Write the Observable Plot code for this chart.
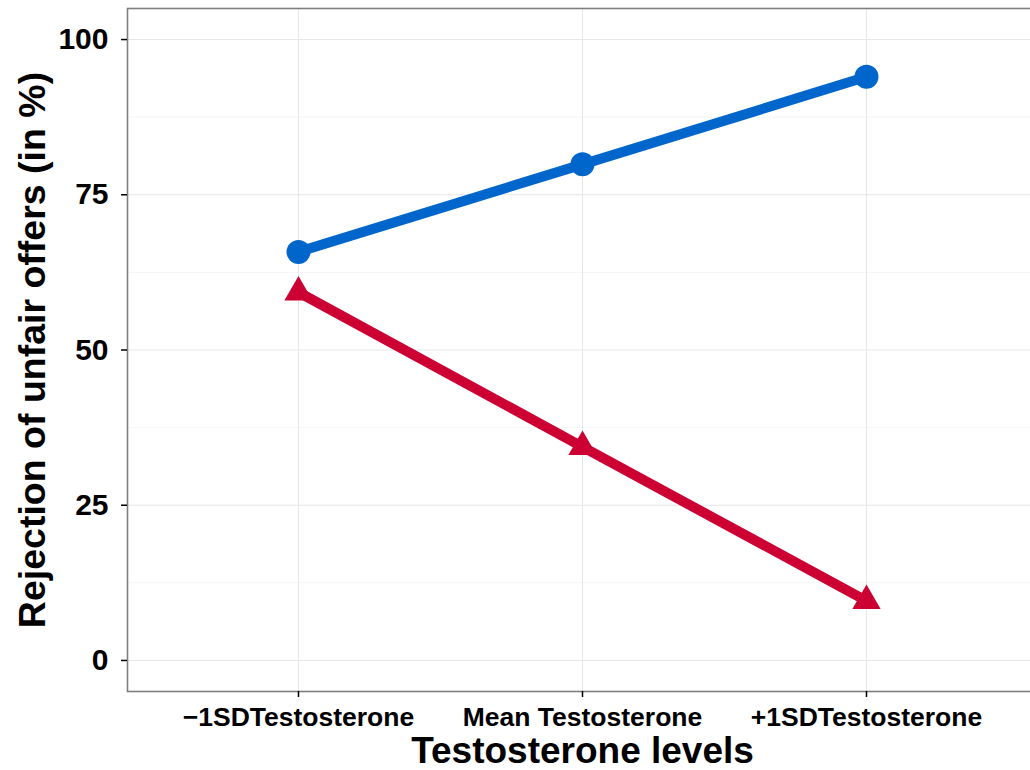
<!DOCTYPE html>
<html>
<head>
<meta charset="utf-8">
<script src="https://cdn.jsdelivr.net/npm/d3@7"></script>
<script src="https://cdn.jsdelivr.net/npm/@observablehq/plot@0.6"></script>
<style>
  html, body { margin: 0; padding: 0; background: white; }
  #chart svg { overflow: hidden; }
</style>
</head>
<body>
<div id="chart"></div>
<script>
const categories = ["\u22121SDTestosterone", "Mean Testosterone", "+1SDTestosterone"];
const blueValues = [65.8, 79.9, 94.0];
const redValues = [59.3, 34.4, 9.6];
const yTicks = [0, 25, 50, 75, 100];
const yMinorTicks = [12.5, 37.5, 62.5, 87.5];
const xTitle = "Testosterone levels";
const yTitle = "Rejection of unfair offers (in %)";

const blue = categories.map((c, i) => ({cat: c, value: blueValues[i]}));
const red = categories.map((c, i) => ({cat: c, value: redValues[i]}));

const chart = Plot.plot({
  width: 1030,
  height: 770,
  marginLeft: 127,
  marginTop: 8,
  marginBottom: 79,
  marginRight: -7,
  style: {fontFamily: "'Liberation Sans', Arial, Helvetica, sans-serif", fontWeight: "bold", color: "black", background: "white"},
  x: {type: "point", domain: categories, padding: 0.6},
  y: {domain: [-5, 105]},
  marks: [
    Plot.gridY(yMinorTicks, {stroke: "#f4f4f4", strokeOpacity: 1, strokeWidth: 1}),
    Plot.gridY(yTicks, {stroke: "#e6e6e6", strokeOpacity: 1, strokeWidth: 1}),
    Plot.gridX(categories, {stroke: "#e6e6e6", strokeOpacity: 1, strokeWidth: 1}),
    Plot.frame({stroke: "#7f7f7f", strokeWidth: 1.6}),
    Plot.line(blue, {x: "cat", y: "value", stroke: "#0066CC", strokeWidth: 10}),
    Plot.line(red, {x: "cat", y: "value", stroke: "#CC0033", strokeWidth: 10}),
    Plot.dot(blue, {x: "cat", y: "value", r: 12, fill: "#0066CC", symbol: "circle"}),
    Plot.dot(red, {x: "cat", y: "value", r: 10.5, fill: "#CC0033", symbol: "triangle"}),
    Plot.axisY(yTicks, {tickSize: 6, tickPadding: 13, fontSize: 30, stroke: "black", strokeWidth: 1.5, label: null, fill: "black"}),
    Plot.axisX(categories, {tickSize: 6, tickPadding: 10, fontSize: 26.5, stroke: "black", strokeWidth: 1.5, label: null, fill: "black"}),
    Plot.text([yTitle], {frameAnchor: "left", dx: -95, rotate: -90, textAnchor: "middle", lineAnchor: "middle", fontSize: 37.5, fontWeight: "bold", fill: "black"}),
    Plot.text([xTitle], {frameAnchor: "bottom", dy: 60, textAnchor: "middle", lineAnchor: "middle", fontSize: 37, fontWeight: "bold", fill: "black"})
  ]
});
document.getElementById("chart").appendChild(chart);
</script>
</body>
</html>
